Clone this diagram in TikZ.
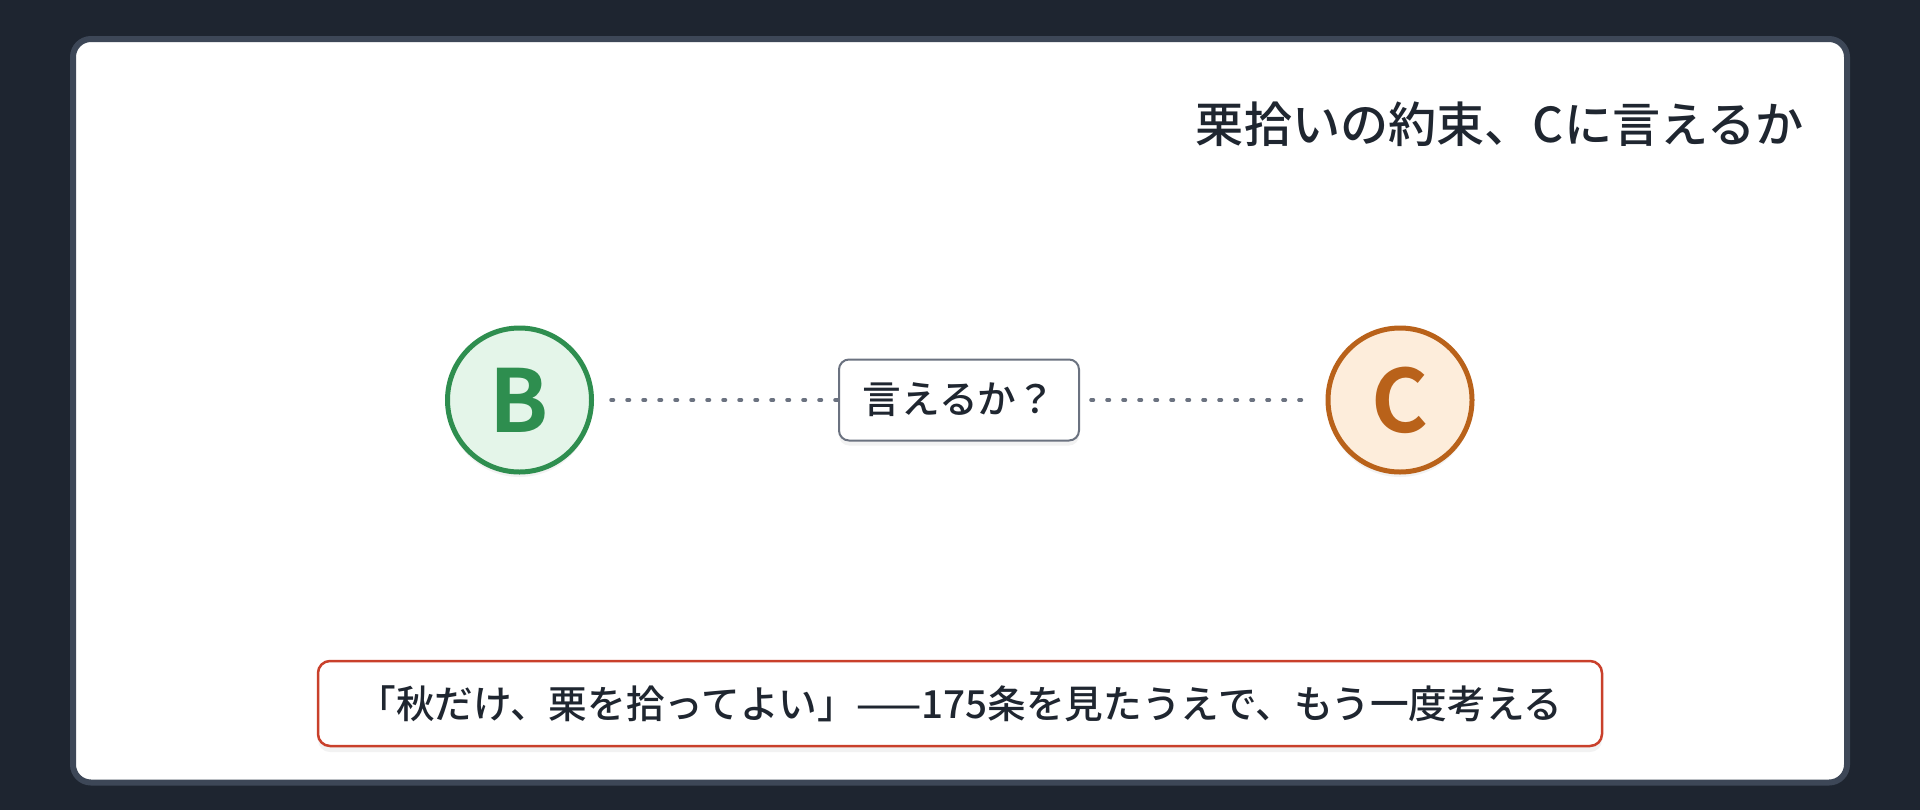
\documentclass[tikz,border=0pt]{standalone}
\usepackage{fontspec}
\setmainfont{Noto Sans CJK JP}[UprightFont=* Medium, BoldFont=* Bold]
\usepackage{tikz}
\usetikzlibrary{positioning}
\usetikzlibrary{shadows}
\definecolor{pagedark}{HTML}{1E2530}
\definecolor{cardedge}{HTML}{3D4757}
\definecolor{inkdark}{HTML}{1F2630}
\definecolor{bgreen}{HTML}{2E8E4F}
\definecolor{bgreenfill}{HTML}{E4F5E9}
\definecolor{corange}{HTML}{B9621A}
\definecolor{corangefill}{HTML}{FDEDDB}
\definecolor{dotgray}{HTML}{6B7280}
\definecolor{notered}{HTML}{C9402B}

\begin{document}
\begin{tikzpicture}[
        person/.style={circle, line width=0.05cm, minimum size=1.44cm, inner sep=0pt, font=\fontsize{24.7pt}{26pt}\selectfont\bfseries,
            drop shadow={opacity=0.10, shadow xshift=0cm, shadow yshift=-0.05cm}},
        askbox/.style={draw=dotgray, fill=white, line width=0.02cm, rounded corners=0.1cm, minimum width=2.40cm, minimum height=0.81cm,
            inner sep=0pt, text=inkdark, font=\fontsize{11pt}{12pt}\selectfont,
            drop shadow={opacity=0.10, shadow xshift=0cm, shadow yshift=-0.05cm}},
        notebox/.style={draw=notered, fill=white, line width=0.025cm, rounded corners=0.12cm, minimum width=12.84cm, minimum height=0.85cm,
            inner sep=0pt, text=inkdark, font=\fontsize{11pt}{12pt}\selectfont,
            drop shadow={opacity=0.10, shadow xshift=0cm, shadow yshift=-0.06cm}},
        dotline/.style={draw=dotgray, line width=0.035cm, line cap=round, dash pattern=on 0.025cm off 0.135cm}
    ]
        \useasboundingbox (0,0) rectangle (19.2,8.1);
        \fill[pagedark] (0,0) rectangle (19.2,8.1);
        \filldraw[fill=white, draw=cardedge, line width=0.06cm, rounded corners=0.18cm] (0.73,0.275) rectangle (18.47,7.71);

        \node[anchor=east, text=inkdark, font=\fontsize{13.7pt}{15pt}\selectfont, inner sep=0pt] (title) at (18.04,6.86) {栗拾いの約束、Cに言えるか};

        \node[person, draw=bgreen, fill=bgreenfill, text=bgreen] (B) at (5.195,4.1) {B};
        \node[person, draw=corange, fill=corangefill, text=corange] (C) at (14.0,4.1) {C};

        \draw[dotline, shorten <=0.17cm, shorten >=0.2cm] (B) -- (C);
        \node[askbox] (ask) at (9.59,4.1) {言えるか？};

        \node[notebox] (note) at (9.60,1.065) {「秋だけ、栗を拾ってよい」——175条を見たうえで、もう一度考える};
    \end{tikzpicture}
\end{document}
